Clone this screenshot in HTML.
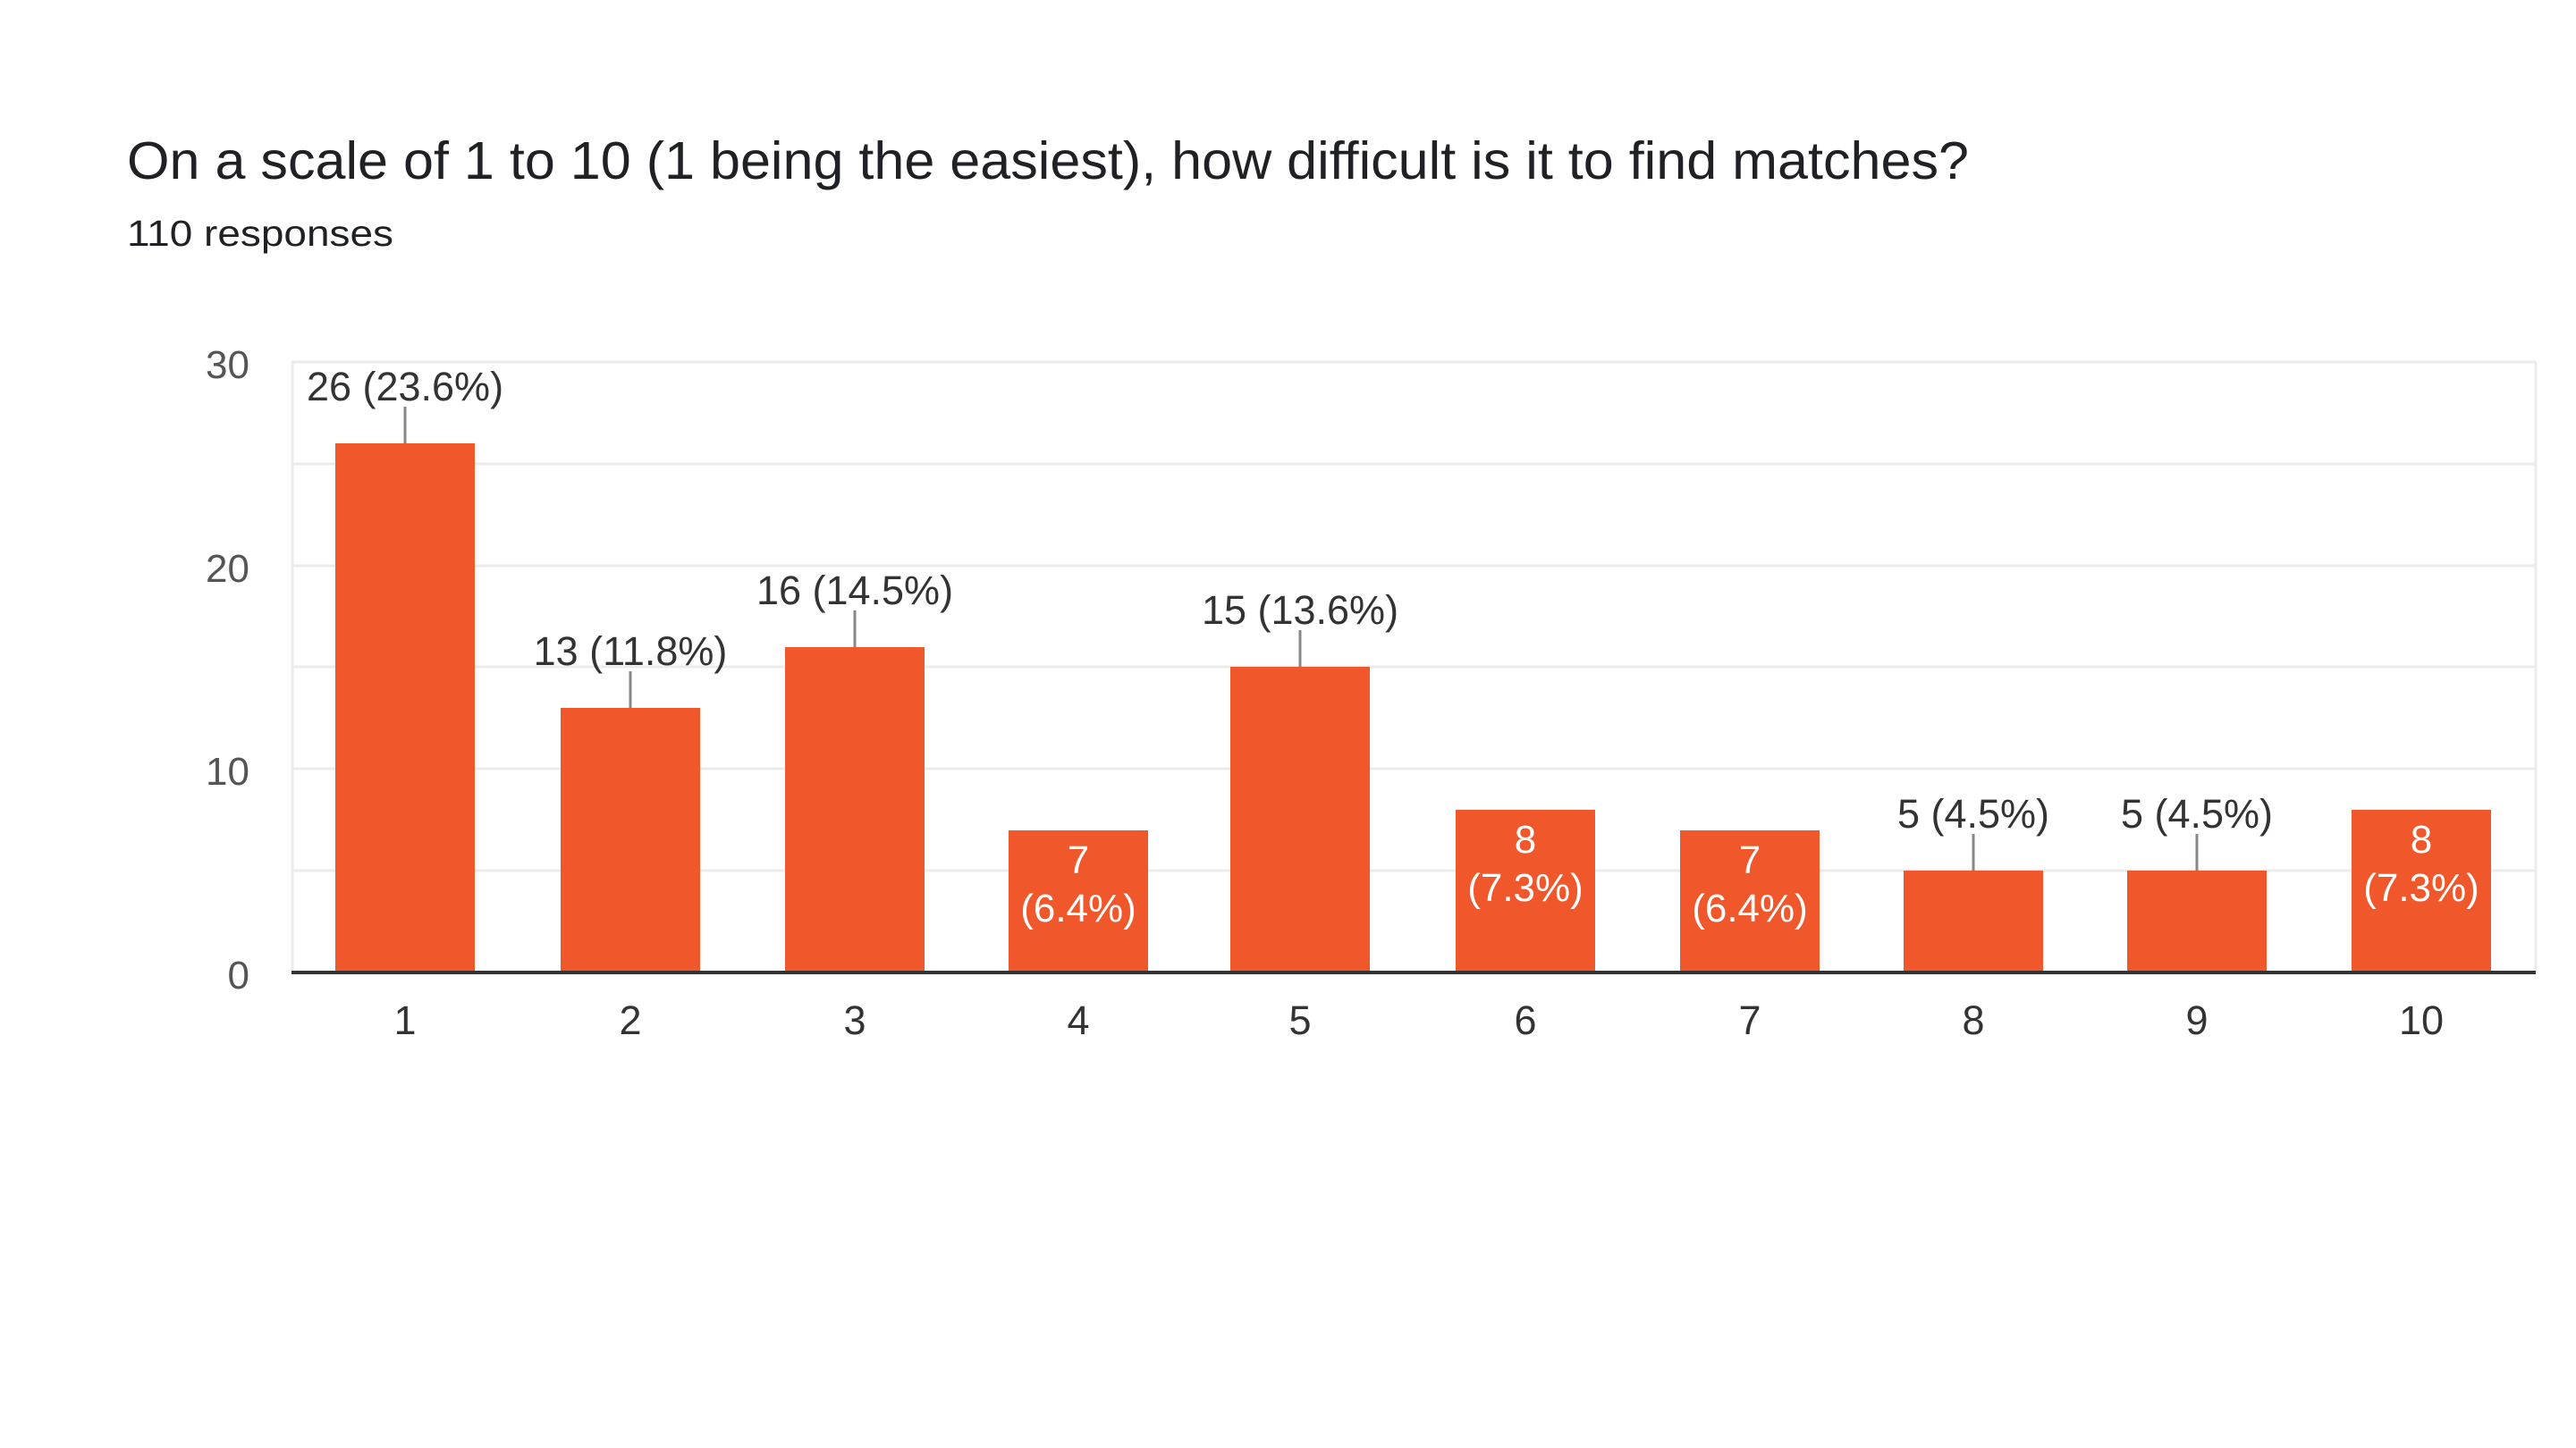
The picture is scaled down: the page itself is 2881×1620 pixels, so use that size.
<!DOCTYPE html>
<html><head><meta charset="utf-8"><style>
html,body{margin:0;padding:0;background:#fff;}
svg{display:block;}
text{font-family:"Liberation Sans",Arial,sans-serif;}
</style></head><body>
<svg width="2881" height="1620" viewBox="0 0 2881 1620" xmlns="http://www.w3.org/2000/svg">
<rect width="2881" height="1620" fill="#fff"/>
<text x="142" y="200" font-size="59" fill="#202124" textLength="2060" lengthAdjust="spacingAndGlyphs">On a scale of 1 to 10 (1 being the easiest), how difficult is it to find matches?</text>
<text x="142" y="275" font-size="41" fill="#202124" textLength="298" lengthAdjust="spacingAndGlyphs">110 responses</text>
<g stroke="#ebebeb" stroke-width="3">
<line x1="326" y1="405" x2="2836" y2="405"/>
<line x1="326" y1="519" x2="2836" y2="519"/>
<line x1="326" y1="633" x2="2836" y2="633"/>
<line x1="326" y1="746" x2="2836" y2="746"/>
<line x1="326" y1="860" x2="2836" y2="860"/>
<line x1="326" y1="974" x2="2836" y2="974"/>
<line x1="327" y1="405" x2="327" y2="1088"/>
<line x1="2836" y1="405" x2="2836" y2="1088"/>
</g>
<g font-size="44" fill="#555" text-anchor="end">
<text x="279" y="423">30</text>
<text x="279" y="651">20</text>
<text x="279" y="878">10</text>
<text x="279" y="1106">0</text>
</g>
<g fill="#f0582c">
<rect x="375" y="496" width="156" height="592"/>
<rect x="627" y="792" width="156" height="296"/>
<rect x="878" y="724" width="156" height="364"/>
<rect x="1128" y="929" width="156" height="159"/>
<rect x="1376" y="746" width="156" height="342"/>
<rect x="1628" y="906" width="156" height="182"/>
<rect x="1879" y="929" width="156" height="159"/>
<rect x="2129" y="974" width="156" height="114"/>
<rect x="2379" y="974" width="156" height="114"/>
<rect x="2630" y="906" width="156" height="182"/>
</g>
<line x1="326" y1="1088" x2="2836" y2="1088" stroke="#333" stroke-width="4"/>
<g stroke="#888" stroke-width="3">
<line x1="453" y1="455" x2="453" y2="496"/>
<line x1="705" y1="751" x2="705" y2="792"/>
<line x1="956" y1="683" x2="956" y2="724"/>
<line x1="1454" y1="705" x2="1454" y2="746"/>
<line x1="2207" y1="933" x2="2207" y2="974"/>
<line x1="2457" y1="933" x2="2457" y2="974"/>
</g>
<g font-size="45" fill="#333" text-anchor="middle">
<text x="453" y="448">26 (23.6%)</text>
<text x="705" y="744">13 (11.8%)</text>
<text x="956" y="676">16 (14.5%)</text>
<text x="1454" y="698">15 (13.6%)</text>
<text x="2207" y="926">5 (4.5%)</text>
<text x="2457" y="926">5 (4.5%)</text>
</g>
<g font-size="44" fill="#fff" text-anchor="middle">
<text x="1206" y="977">7</text><text x="1206" y="1031">(6.4%)</text>
<text x="1706" y="954">8</text><text x="1706" y="1008">(7.3%)</text>
<text x="1957" y="977">7</text><text x="1957" y="1031">(6.4%)</text>
<text x="2708" y="954">8</text><text x="2708" y="1008">(7.3%)</text>
</g>
<g font-size="45" fill="#333" text-anchor="middle">
<text x="453" y="1157">1</text>
<text x="705" y="1157">2</text>
<text x="956" y="1157">3</text>
<text x="1206" y="1157">4</text>
<text x="1454" y="1157">5</text>
<text x="1706" y="1157">6</text>
<text x="1957" y="1157">7</text>
<text x="2207" y="1157">8</text>
<text x="2457" y="1157">9</text>
<text x="2708" y="1157">10</text>
</g>
</svg>
</body></html>
